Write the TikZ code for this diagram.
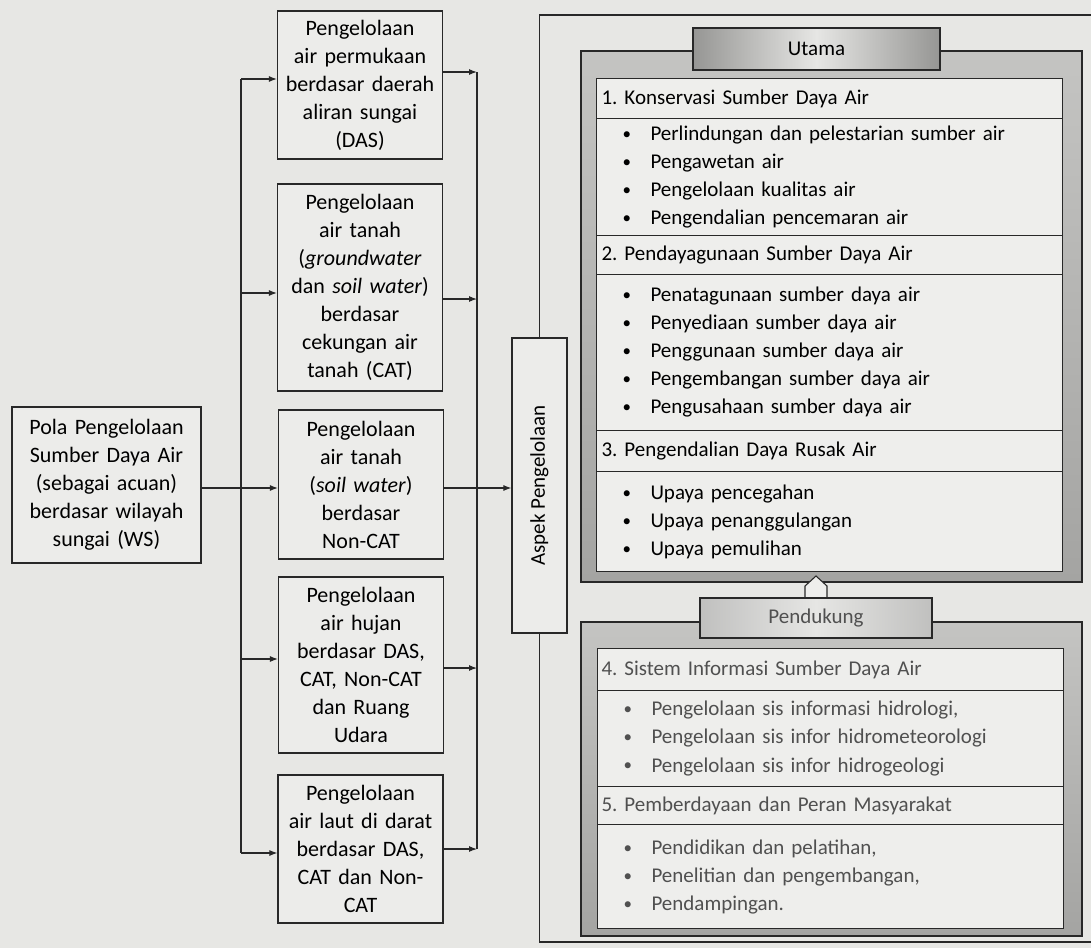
\documentclass[tikz,border=0pt]{standalone}
\usepackage{fontspec}
\setmainfont{Carlito}
\usetikzlibrary{arrows.meta}
\definecolor{bg}{RGB}{231,231,228}
\definecolor{boxfill}{RGB}{236,236,234}
\definecolor{rowfill}{RGB}{238,238,236}
\definecolor{linec}{RGB}{40,40,40}
\definecolor{panelA}{RGB}{196,196,194}
\definecolor{panelB}{RGB}{164,164,162}
\definecolor{tabdark}{RGB}{150,150,148}
\definecolor{tablight}{RGB}{230,230,228}
\definecolor{faded}{RGB}{80,80,80}
\newcommand{\bul}[1]{\hspace*{26pt}\makebox[28pt][l]{\raisebox{1pt}{\fontsize{17}{17}\selectfont •}}#1}
\frenchspacing
\begin{document}
\frenchspacing
\begin{tikzpicture}[x=1pt,y=-1pt,
  every node/.append style={execute at begin node=\frenchspacing},
  midbox/.style={draw=linec, line width=1.2pt, fill=boxfill, align=center,
    inner xsep=0pt, inner ysep=0pt, text width=165pt,
    font=\fontsize{22}{28}\selectfont},
  arr/.style={-{Latex[length=8pt,width=6pt]}, line width=1.1pt, draw=linec},
  conn/.style={line width=1.1pt, draw=linec},
  panel/.style={draw=linec, line width=1.3pt, top color=panelA, bottom color=panelB,
    inner sep=0pt},
  row/.style={draw=linec, line width=1pt, fill=rowfill, text width=466pt,
    inner xsep=0pt, inner ysep=0pt, align=left, anchor=north west,
    font=\fontsize{21}{28}\selectfont},
  tab/.style={draw=linec, line width=1.2pt, inner sep=0pt,
    font=\fontsize{21}{26}\selectfont},
]
\useasboundingbox (0,0) rectangle (1091,948);
\fill[bg] (0,0) rectangle (1091,948);

% left source box
\node[midbox, text width=189pt, minimum height=156pt] (pola) at (106.5,485)
  {Pola Pengelolaan\\Sumber Daya Air\\(sebagai acuan)\\berdasar wilayah\\sungai (WS)};

% middle boxes
\node[midbox, minimum height=148pt] (m1) at (360,85)
  {Pengelolaan\\air permukaan\\berdasar daerah\\aliran sungai\\(DAS)};
\node[midbox, minimum height=207pt] (m2) at (360,287.5)
  {Pengelolaan\\air tanah\\(\textit{groundwater}\\dan \textit{soil water})\\berdasar\\cekungan air\\tanah (CAT)};
\node[midbox, minimum height=149pt] (m3) at (361,484.5)
  {Pengelolaan\\air tanah\\(\textit{soil water})\\berdasar\\Non-CAT};
\node[midbox, minimum height=176pt] (m4) at (361,665)
  {Pengelolaan\\air hujan\\berdasar DAS,\\CAT, Non-CAT\\dan Ruang\\Udara};
\node[midbox, minimum height=148pt] (m5) at (360.5,849)
  {Pengelolaan\\air laut di darat\\berdasar DAS,\\CAT dan Non-\\CAT};

% aspek box
\node[draw=linec, line width=1.2pt, fill=boxfill, minimum width=55pt, minimum height=295pt,
  inner sep=0pt, font=\fontsize{21}{26}\selectfont] (aspek) at (539.5,485.5)
  {\rotatebox{90}{Aspek Pengelolaan}};

% connector points
\coordinate (lt) at (241,0);
\coordinate (rt) at (477,0);
\coordinate (i1) at ([yshift=6pt]m1.west);
\coordinate (i2) at ([yshift=-5.5pt]m2.west);
\coordinate (i3) at ([yshift=-3.5pt]m3.west);
\coordinate (i4) at ([yshift=6pt]m4.west);
\coordinate (i5) at ([yshift=-4pt]m5.west);
\coordinate (o1) at ([yshift=13pt]m1.east);
\coordinate (o2) at ([yshift=-11.5pt]m2.east);
\coordinate (o3) at ([yshift=-3.5pt]m3.east);
\coordinate (o4) at ([yshift=-3pt]m4.east);
\coordinate (o5) at (m5.east);

% left trunk
\draw[conn] (lt |- i1) -- (lt |- i5);
\foreach \k in {1,2,4,5} \draw[arr] (lt |- i\k) -- (i\k);
\draw[arr] (pola.east |- i3) -- (i3);

% right trunk
\draw[conn] (rt |- o1) -- (rt |- o5);
\foreach \k in {1,2,4,5} \draw[arr] (o\k) -- (rt |- o\k);
\draw[arr] (o3) -- (aspek.west |- o3);

% outer frame
\draw[conn] (aspek.north) -- (aspek.north |- 0,15) -- (1091,15);
\draw[conn] (aspek.south) -- (aspek.south |- 0,942) -- (1091,942);

% Utama panel
\node[panel, minimum width=501pt, minimum height=531pt] (pu) at (831.5,316.5) {};
\node[row, minimum height=40pt] (h1) at (596,78) {\hspace*{5pt}1. Konservasi Sumber Daya Air};
\node[row, minimum height=117pt] (c1) at (596,118)
  {\bul{Perlindungan dan pelestarian sumber air}\\\bul{Pengawetan air}\\\bul{Pengelolaan kualitas air}\\\bul{Pengendalian pencemaran air}};
\node[row, minimum height=39pt] (h2) at (596,235) {\hspace*{5pt}2. Pendayagunaan Sumber Daya Air};
\node[row, minimum height=156pt] (c2) at (596,274)
  {\bul{Penatagunaan sumber daya air}\\\bul{Penyediaan sumber daya air}\\\bul{Penggunaan sumber daya air}\\\bul{Pengembangan sumber daya air}\\\bul{Pengusahaan sumber daya air}};
\node[row, minimum height=41pt] (h3) at (596,430) {\hspace*{5pt}3. Pengendalian Daya Rusak Air};
\node[row, minimum height=100pt] (c3) at (596,471)
  {\bul{Upaya pencegahan}\\\bul{Upaya penanggulangan}\\\bul{Upaya pemulihan}};
\node[tab, minimum width=247pt, minimum height=42pt, left color=tabdark, right color=tabdark,
  middle color=tablight] (utama) at (816.5,49) {Utama};

% Pendukung panel
\node[panel, minimum width=501pt, minimum height=314pt] (pp) at (831.5,779) {};
\begin{scope}[every node/.append style={text=faded}]
\node[row, minimum height=42pt] (h4) at (597,648) {\hspace*{4pt}4. Sistem Informasi Sumber Daya Air};
\node[row, minimum height=96pt] (c4) at (597,690)
  {\bul{Pengelolaan sis informasi hidrologi,}\\\bul{Pengelolaan sis infor hidrometeorologi}\\\bul{Pengelolaan sis infor hidrogeologi}};
\node[row, minimum height=38pt] (h5) at (597,786) {\hspace*{4pt}5. Pemberdayaan dan Peran Masyarakat};
\node[row, minimum height=104pt] (c5) at (597,824)
  {\bul{Pendidikan dan pelatihan,}\\\bul{Penelitian dan pengembangan,}\\\bul{Pendampingan.}};
\end{scope}

% hollow up arrow from Pendukung to Utama
\draw[line width=1.1pt, draw=linec, fill=rowfill]
  (805,602) -- (805,586) -- (816,576) -- (827,586) -- (827,602);
\node[tab, minimum width=232pt, minimum height=40pt, left color=tabdark!60!white,
  right color=tabdark!60!white, middle color=tablight, text=faded] (pend) at (816,618) {Pendukung};
\end{tikzpicture}
\end{document}
